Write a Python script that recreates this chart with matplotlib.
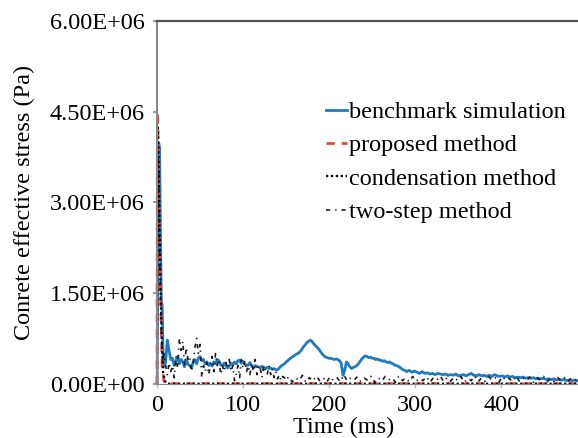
import numpy as np
import matplotlib
matplotlib.use("Agg")
from matplotlib import pyplot as plt
from matplotlib.ticker import FuncFormatter

# 数据（应力单位 MPa，绘图时乘 1e6 换成 Pa）
# benchmark simulation
bench_t_head = [0, 1, 2, 3, 4, 5, 6, 7, 8]
bench_v_head = [0.0, 2.5, 3.98, 3.9, 2.5, 1.38, 1.3, 0.5, 0.28]
bench_v_mid = [  # t = 10, 12, ..., 290
    0.35, 0.72, 0.55, 0.40, 0.42, 0.30, 0.38, 0.45, 0.33, 0.40,
    0.36, 0.28, 0.40, 0.32, 0.30, 0.26, 0.35, 0.40, 0.33, 0.42,
    0.45, 0.38, 0.40, 0.33, 0.36, 0.30, 0.34, 0.29, 0.36, 0.33,
    0.40, 0.38, 0.31, 0.30, 0.34, 0.29, 0.26, 0.29, 0.34, 0.31,
    0.36, 0.33, 0.38, 0.39, 0.34, 0.37, 0.33, 0.30, 0.31, 0.35,
    0.29, 0.27, 0.30, 0.28, 0.28, 0.26, 0.29, 0.27, 0.25, 0.27,
    0.25, 0.26, 0.24, 0.25, 0.23, 0.23, 0.26, 0.29, 0.31, 0.33,
    0.36, 0.38, 0.41, 0.43, 0.45, 0.47, 0.49, 0.50, 0.53, 0.56,
    0.61, 0.64, 0.68, 0.70, 0.72, 0.70, 0.66, 0.63, 0.60, 0.57,
    0.53, 0.49, 0.46, 0.44, 0.43, 0.42, 0.42, 0.41, 0.40, 0.41,
    0.40, 0.38, 0.34, 0.14, 0.22, 0.36, 0.33, 0.28, 0.25, 0.27,
    0.28, 0.30, 0.33, 0.37, 0.41, 0.44, 0.46, 0.45, 0.43, 0.44,
    0.42, 0.42, 0.40, 0.41, 0.39, 0.39, 0.37, 0.38, 0.36, 0.35,
    0.36, 0.34, 0.33, 0.31, 0.30, 0.29, 0.27, 0.25, 0.23, 0.22,
    0.20,
]
bench_v_tail = [  # t = 293, 296, ..., 491
    0.22, 0.19, 0.21, 0.19, 0.17, 0.20, 0.17, 0.18, 0.16, 0.17,
    0.15, 0.17, 0.16, 0.15, 0.16, 0.14, 0.15, 0.14, 0.16, 0.13,
    0.14, 0.15, 0.13, 0.15, 0.17, 0.14, 0.13, 0.15, 0.13, 0.14,
    0.12, 0.14, 0.12, 0.15, 0.13, 0.12, 0.13, 0.11, 0.13, 0.11,
    0.12, 0.10, 0.11, 0.10, 0.11, 0.09, 0.10, 0.09, 0.10, 0.08,
    0.09, 0.08, 0.09, 0.07, 0.08, 0.07, 0.08, 0.06, 0.07, 0.06,
    0.07, 0.05, 0.06, 0.05, 0.06, 0.05, 0.05,
]

# proposed method
prop_t = [0, 0.5, 1, 1.5, 2, 3, 4, 5, 6, 8, 10, 489]
prop_v = [0.0, 4.5, 4.3, 3.8, 3.2, 2.4, 1.6, 0.9, 0.3, 0.05, 0.0, 0.0]

# condensation method
cond_t = [0, 1, 2, 3, 4, 5, 6, 7, 9, 12, 489]
cond_v = [0.0, 4.27, 3.6, 2.6, 1.7, 1.0, 0.5, 0.2, 0.05, 0.0, 0.0]

# two-step method
two_t_head = [0, 1, 2, 3, 4, 5, 6, 7, 8]
two_v_head = [0.0, 3.8, 3.5, 2.2, 1.5, 0.9, 0.6, 0.3, 0.5]
two_v_mid = [  # t = 10, 12, ..., 150
    0.30, 0.15, 0.35, 0.20, 0.30, 0.10, 0.45, 0.25, 0.75, 0.55,
    0.70, 0.30, 0.60, 0.40, 0.45, 0.20, 0.35, 0.60, 0.75, 0.50,
    0.65, 0.10, 0.30, 0.20, 0.35, 0.15, 0.30, 0.45, 0.20, 0.50,
    0.30, 0.40, 0.15, 0.30, 0.20, 0.35, 0.25, 0.40, 0.20, 0.30,
    0.05, 0.15, 0.30, 0.10, 0.40, 0.25, 0.38, 0.20, 0.30, 0.15,
    0.35, 0.20, 0.40, 0.15, 0.30, 0.25, 0.10, 0.30, 0.20, 0.15,
    0.30, 0.15, 0.25, 0.10, 0.20, 0.08, 0.15, 0.05, 0.12, 0.10,
    0.05,
]
two_v_tail = [  # t = 153, 157, ..., 489
    0.12, 0.03, 0.10, 0.05, 0.14, 0.02, 0.10, 0.04, 0.13, 0.05,
    0.10, 0.02, 0.12, 0.05, 0.10, 0.03, 0.15, 0.04, 0.10, 0.06,
    0.12, 0.03, 0.09, 0.05, 0.13, 0.02, 0.10, 0.04, 0.12, 0.06,
    0.10, 0.02, 0.13, 0.05, 0.10, 0.03, 0.12, 0.04, 0.09, 0.05,
    0.12, 0.02, 0.10, 0.06, 0.13, 0.03, 0.10, 0.04, 0.11, 0.05,
    0.12, 0.02, 0.09, 0.05, 0.13, 0.03, 0.10, 0.04, 0.12, 0.06,
    0.10, 0.02, 0.12, 0.05, 0.09, 0.03, 0.13, 0.04, 0.10, 0.05,
    0.11, 0.02, 0.10, 0.06, 0.12, 0.03, 0.09, 0.04, 0.11, 0.05,
    0.10, 0.03, 0.09, 0.05, 0.08,
]

y_ticks = [0, 1.5e6, 3.0e6, 4.5e6, 6.0e6]
x_ticks = [0, 100, 200, 300, 400]

# 拼接时间轴
bench_t = np.concatenate([bench_t_head, np.arange(10, 292, 2), np.arange(293, 492, 3)])
bench_v = np.concatenate([bench_v_head, bench_v_mid, bench_v_tail]) * 1e6
two_t = np.concatenate([two_t_head, np.arange(10, 152, 2), np.arange(153, 490, 4)])
two_v = np.concatenate([two_v_head, two_v_mid, two_v_tail]) * 1e6
prop_v = np.array(prop_v) * 1e6
cond_v = np.array(cond_v) * 1e6

plt.rcParams['font.family'] = ['Liberation Serif', 'DejaVu Serif']
plt.rcParams['font.size'] = 17.5

fig = plt.figure(figsize=(5.78, 4.38), dpi=100)
ax = fig.add_axes([157 / 578, 1 - 383.7 / 438, 1 - 157 / 578, (383.7 - 21) / 438])

ax.plot(bench_t, bench_v, color='#1f7bc1', lw=2.0, label='benchmark simulation')
ax.plot(prop_t, prop_v, color='#e8473f', lw=2.0, dashes=(3, 2.5),
        label='proposed method', clip_on=False)
ax.plot(cond_t, cond_v, color='black', lw=1.6, dashes=(1, 1.2),
        label='condensation method', clip_on=False)
ax.plot(two_t, two_v, color='#1a1a1a', lw=1.2, dashes=(2.5, 3, 0.8, 3),
        label='two-step method')

ax.set_xlim(0, 489)
ax.set_ylim(0, 6e6)
ax.set_xticks(x_ticks)
ax.set_yticks(y_ticks)
ax.yaxis.set_major_formatter(FuncFormatter(lambda v, p: f"{v:.2E}"))

ax.tick_params(axis='y', direction='out', length=3, width=1.2, color='#888888', pad=6)
ax.tick_params(axis='x', direction='out', length=3, width=1.0, color='#bbbbbb', pad=5)

ax.spines['right'].set_visible(False)
ax.spines['top'].set_color('#555555')
ax.spines['top'].set_linewidth(1.6)
ax.spines['left'].set_color('#888888')
ax.spines['left'].set_linewidth(1.5)
ax.spines['bottom'].set_color('#888888')

ax.set_xlabel('Time (ms)')
ax.set_ylabel('Conrete effective stress (Pa)')
ax.xaxis.set_label_coords(0.444, -0.092)
ax.yaxis.set_label_coords(-0.29, 0.5)

ax.legend(loc='upper left', bbox_to_anchor=(326 / 578, 1 - 101 / 438),
          bbox_transform=fig.transFigure, frameon=False, borderpad=0,
          borderaxespad=0, handlelength=0.85, handletextpad=0.1,
          labelspacing=0.47)

plt.savefig('out.png', dpi=100)
plt.close()
